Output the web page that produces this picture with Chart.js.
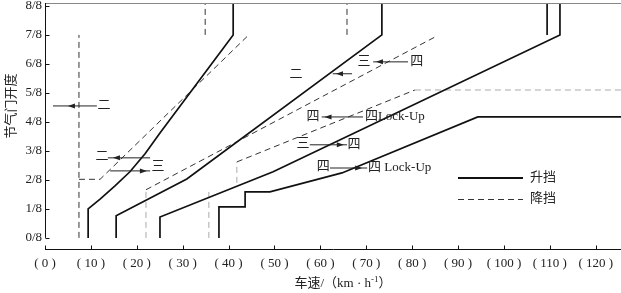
<!DOCTYPE html>
<html><head><meta charset="utf-8">
<script src="https://cdn.jsdelivr.net/npm/chart.js@4.4.1/dist/chart.umd.min.js"></script>
<style>html,body{margin:0;padding:0;background:#fff;}#wrap{width:621px;height:293px;}</style>
</head><body><div id="wrap"><canvas id="c" width="621" height="293"></canvas></div>
<script>
// ---- data (km/h, throttle eighths) ----
const xTicks = [0,10,20,30,40,50,60,70,80,90,100,110,120];
const xTickLabels = ['( 0 )','( 10 )','( 20 )','( 30 )','( 40 )','( 50 )','( 60 )','( 70 )','( 80 )','( 90 )','( 100 )','( 110 )','( 120 )'];
const yTicks = [0,1,2,3,4,5,6,7,8];
const yTickLabels = ['0/8','1/8','2/8','3/8','4/8','5/8','6/8','7/8','8/8'];
const xMax = 125.5, yMax = 8.1, yMin = -0.383;

// 升挡 (upshift, solid)
const up12 = [[9.4,0],[9.4,1.0],[12.0,1.34],[15.25,1.79],[18.5,2.28],[21.8,2.9],[25.05,3.62],[41.0,7.0],[41.0,8.1]];
const up23 = [[15.5,0],[15.5,0.76],[30.9,2.03],[73.4,7.0],[73.4,8.1]];
const up34 = [[25.05,0],[25.05,0.72],[49.7,2.28],[112.2,7.0],[112.2,8.1]];
const up34Top = [[109.4,7.0],[109.4,8.1]];
const upLock = [[37.9,0],[37.9,1.07],[43.6,1.07],[43.6,1.59],[49.0,1.59],[64.7,2.24],[94.3,4.17],[125.5,4.17]];
// 降挡 (downshift, dashed)
const down21 = [[7.4,0],[7.4,7.0]];
const down32 = [[7.4,2.02],[12.0,2.02],[44.2,6.97]];
const down32Top = [[34.9,7.0],[34.9,8.1]];
const down43Base = [[22.0,0],[22.0,1.66]];
const down43 = [[22.0,1.66],[85.0,6.93]];
const down43Top = [[65.8,7.0],[65.8,8.1]];
const downLockBase = [[35.7,0],[35.7,1.59]];
const downLockRise = [[41.8,1.9],[41.8,2.62]];
const downLock = [[41.8,2.62],[80.6,5.1]];
const downLockFlat = [[80.6,5.1],[125.5,5.1]];

// annotation texts and arrows (data coordinates)
const noteTexts = [
  {t:'二', x:12.85, y:4.55}, {t:'二', x:12.4, y:2.79}, {t:'三', x:24.6, y:2.45},
  {t:'二', x:54.7, y:5.62}, {t:'三', x:69.5, y:6.07}, {t:'四', x:81.0, y:6.07},
  {t:'四', x:58.4, y:4.17}, {t:'四Lock-Up', x:69.7, y:4.17, left:true},
  {t:'三', x:56.2, y:3.24}, {t:'四', x:67.3, y:3.21},
  {t:'四', x:60.6, y:2.45}, {t:'四 Lock-Up', x:70.4, y:2.41, left:true}
];
const noteArrows = [
  {x1:11.3, x2:1.74, h:5.0, y:4.55},
  {x1:22.9, x2:13.7, h:14.8, y:2.76},
  {x1:14.2, x2:22.9, h:22.2, y:2.31},
  {x1:66.9, x2:62.7, h:63.4, y:5.66},
  {x1:79.1, x2:71.5, h:72.1, y:6.07},
  {x1:69.3, x2:60.3, h:60.9, y:4.17},
  {x1:57.7, x2:65.8, h:65.1, y:3.21},
  {x1:62.1, x2:70.2, h:69.1, y:2.41}
];

const pts = a => a.map(p => ({x:p[0], y:p[1]}));
const SOLID = {borderColor:'#111', borderWidth:1.7};
const DASH = {borderColor:'#333', borderWidth:1, borderDash:[6,4]};
const GDASH = {borderColor:'#aaa', borderWidth:1, borderDash:[6,4]};
function ds(arr, style){ return Object.assign({data:pts(arr), showLine:true, pointRadius:0, fill:false, tension:0}, style); }

const datasets = [
  ds(up12,SOLID), ds(up23,SOLID), ds(up34,SOLID), ds(up34Top,SOLID), ds(upLock,SOLID),
  ds(down21,DASH), ds(down32,DASH), ds(down32Top,DASH), ds(down43Base,GDASH), ds(down43,DASH),
  ds(down43Top,DASH), ds(downLockBase,GDASH), ds(downLockRise,GDASH), ds(downLock,DASH), ds(downLockFlat,GDASH)
];

const SERIF = '"Liberation Serif","Noto Sans CJK SC",serif';
const F13 = '13px ' + SERIF;

const deco = {
  id:'deco',
  afterDraw(chart){
    const c = chart.ctx, xs = chart.scales.x, ys = chart.scales.y;
    const X = v => xs.getPixelForValue(v), Y = v => ys.getPixelForValue(v);
    c.save();
    // top frame line
    c.strokeStyle = '#888'; c.lineWidth = 1;
    c.beginPath(); c.moveTo(X(0), Math.round(Y(yMax))+0.5); c.lineTo(X(xMax), Math.round(Y(yMax))+0.5); c.stroke();
    // y axis line and inward ticks
    c.strokeStyle = '#111';
    const ax = Math.round(X(0))+0.5;
    c.beginPath(); c.moveTo(ax, Y(0)); c.lineTo(ax, Y(yMax)); c.stroke();
    yTicks.forEach(v => { const y = Math.round(Y(v))+0.5; c.beginPath(); c.moveTo(ax, y); c.lineTo(ax+4, y); c.stroke(); });
    // x axis inward ticks
    const by = Math.round(xs.top)+0.5;
    xTicks.forEach(v => { const x = Math.round(X(v))+0.5; c.beginPath(); c.moveTo(x, by); c.lineTo(x, by-4); c.stroke(); });
    // annotation arrows
    c.strokeStyle = '#222'; c.fillStyle = '#222'; c.lineWidth = 1;
    noteArrows.forEach(a => {
      const y = Y(a.y), x1 = X(a.x1), x2 = X(a.x2), h = X(a.h), d = x2 < x1 ? -1 : 1;
      c.beginPath(); c.moveTo(x1, y); c.lineTo(x2, y); c.stroke();
      c.beginPath(); c.moveTo(h, y); c.lineTo(h - d*7, y-2.5); c.lineTo(h - d*7, y+2.5); c.closePath(); c.fill();
    });
    // annotation texts
    c.font = F13; c.textBaseline = 'middle'; c.fillStyle = '#222';
    noteTexts.forEach(n => { c.textAlign = n.left ? 'left' : 'center'; c.fillText(n.t, X(n.x), Y(n.y)); });
    // legend
    const lx1 = 458, lx2 = 523;
    c.strokeStyle = '#111'; c.lineWidth = 2;
    c.beginPath(); c.moveTo(lx1, 178); c.lineTo(lx2, 178); c.stroke();
    c.strokeStyle = '#333'; c.lineWidth = 1; c.setLineDash([6,4]);
    c.beginPath(); c.moveTo(lx1, 199.5); c.lineTo(lx2, 199.5); c.stroke();
    c.setLineDash([]);
    c.textAlign = 'left'; c.fillStyle = '#222';
    c.fillText('升挡', 530, 178); c.fillText('降挡', 530, 199);
    // x title
    c.textAlign = 'left';
    const p1 = '车速/（km · h', p2 = '-1', p3 = '）';
    c.font = F13; const w1 = c.measureText(p1).width, w3 = c.measureText(p3).width;
    c.font = '9px ' + SERIF; const w2 = c.measureText(p2).width;
    let sx = 343 - (w1+w2+w3)/2;
    c.font = F13; c.fillText(p1, sx, 284);
    c.font = '9px ' + SERIF; c.fillText(p2, sx+w1, 280);
    c.font = F13; c.fillText(p3, sx+w1+w2, 284);
    // y title
    c.translate(12, 106); c.rotate(-Math.PI/2); c.textAlign = 'center';
    c.fillText('节气门开度', 0, 0);
    c.restore();
  }
};

new Chart(document.getElementById('c'), {
  type:'scatter',
  data:{datasets},
  options:{
    responsive:false, animation:false, events:[],
    layout:{padding:{top:3,left:0,right:0,bottom:0}},
    plugins:{legend:{display:false}, tooltip:{enabled:false}},
    scales:{
      x:{type:'linear', min:0, max:xMax,
        afterBuildTicks: s => { s.ticks = xTicks.map(v => ({value:v})); },
        afterFit: s => { s.height = 44; s.paddingLeft = 0; s.paddingRight = 0; },
        grid:{display:false, drawTicks:false},
        border:{display:true, color:'#111', width:1},
        ticks:{autoSkip:false, maxRotation:0, padding:7, color:'#222', font:{family:SERIF, size:13},
          callback:(v,i) => xTickLabels[i]}
      },
      y:{type:'linear', min:yMin, max:yMax,
        afterBuildTicks: s => { s.ticks = yTicks.map(v => ({value:v})); },
        afterFit: s => { s.width = 45; s.paddingTop = 0; s.paddingBottom = 0; },
        grid:{display:false, drawTicks:false},
        border:{display:false},
        ticks:{autoSkip:false, padding:3, color:'#222', font:{family:SERIF, size:13},
          callback:(v,i) => yTickLabels[i]}
      }
    }
  },
  plugins:[deco]
});
</script>
</body></html>
